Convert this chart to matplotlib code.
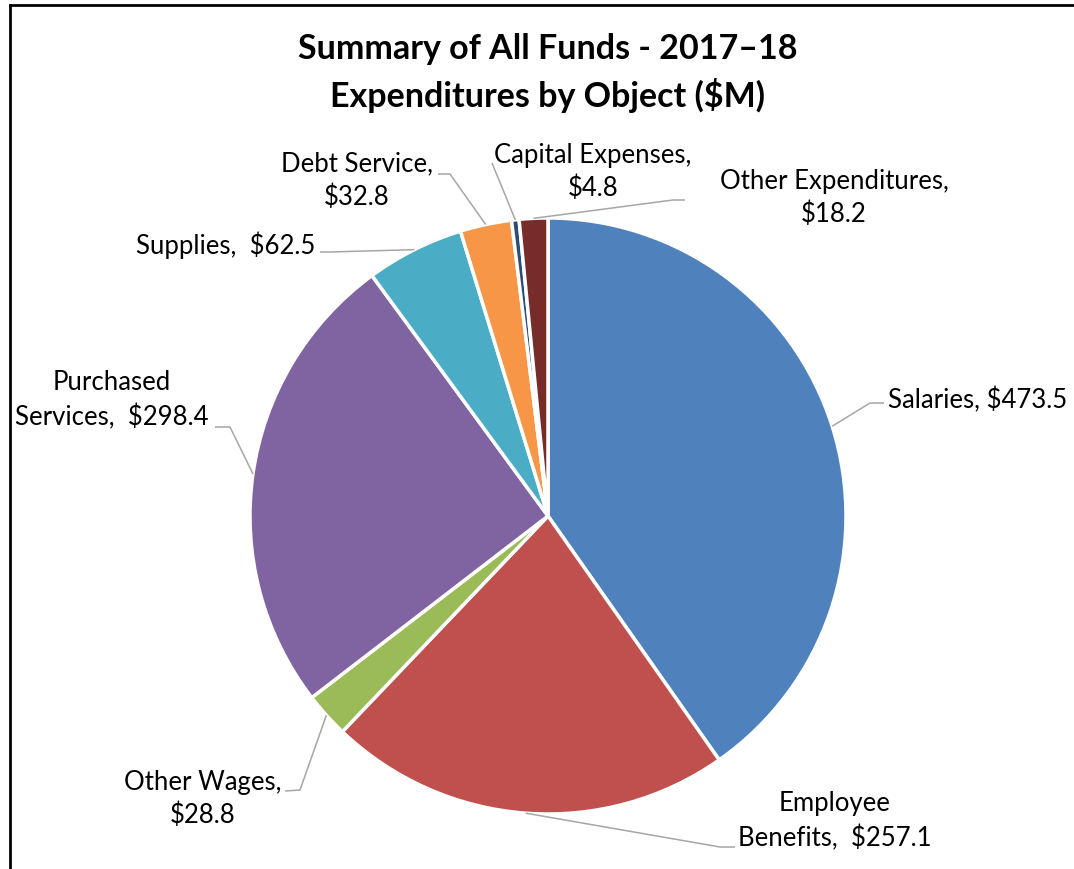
import numpy as np
import matplotlib as mpl
import matplotlib.pyplot as plt

# expenditure categories, $M, clockwise from 12 o'clock
categories = ['Salaries', 'Employee Benefits', 'Other Wages', 'Purchased Services',
              'Supplies', 'Debt Service', 'Capital Expenses', 'Other Expenditures']
amounts = [473.5, 257.1, 28.8, 298.4, 62.5, 32.8, 4.8, 18.2]
label_texts = ['Salaries, ${:.1f}',
               'Employee\nBenefits,  ${:.1f}',
               'Other Wages,\n${:.1f}',
               'Purchased\nServices,  ${:.1f}',
               'Supplies,  ${:.1f}',
               'Debt Service,\n${:.1f}',
               'Capital Expenses,\n${:.1f}',
               'Other Expenditures,\n${:.1f}']
colors = ['#4f81bd', '#c0504d', '#9bbb59', '#8064a2',
          '#4bacc6', '#f79646', '#2c4d75', '#772c2a']

W, H = 1074, 869
mpl.rcParams['font.family'] = ['Lato', 'DejaVu Sans']

fig = plt.figure(figsize=(W / 100, H / 100), dpi=100)
ax = fig.add_axes([0, 0, 1, 1])
ax.set_aspect('equal')

cx, cy, r = 548, H - 516, 298
wedges, _ = ax.pie(amounts, colors=colors, startangle=90, counterclock=False,
                   center=(cx, cy), radius=r, frame=True,
                   wedgeprops=dict(edgecolor='white', linewidth=2.5))
ax.set_xlim(0, W)
ax.set_ylim(0, H)
ax.axis('off')

# label placement (text anchor, alignment, leader bend points) in pixel coords, y from top
placement = [
    ((888, 400), 'left',   [(870, 403), (884, 403)]),
    ((835, 821), 'center', [(720, 847), (735, 847)]),
    ((203, 799), 'center', [(300, 790), (285, 791)]),
    ((112, 400), 'center', [(230, 427), (215, 427)]),
    ((226, 245), 'center', [(330, 252), (320, 252)]),
    ((357, 181), 'center', [(450, 174), (438, 174)]),
    ((593, 172), 'center', [(492, 163)]),
    ((834, 198), 'center', [(673, 200), (685, 200)]),
]

total = sum(amounts)
start = 0.0
for val, fmt, (pos, ha, bends) in zip(amounts, label_texts, placement):
    mid = (start + val / 2) / total * 2 * np.pi
    start += val
    ax_x = cx + r * np.sin(mid)
    ax_y = cy + r * np.cos(mid)
    xs = [ax_x] + [b[0] for b in bends]
    ys = [ax_y] + [H - b[1] for b in bends]
    ax.plot(xs, ys, color='#a6a6a6', lw=1.1, solid_capstyle='butt')
    ax.text(pos[0], H - pos[1], fmt.format(val), ha=ha, va='center',
            fontsize=18.5, color='#000000', linespacing=1.4, multialignment='center')

ax.text(548, H - 73, 'Summary of All Funds - 2017\u201318\nExpenditures by Object ($M)',
        ha='center', va='center', fontsize=24.5, fontweight='bold', linespacing=1.42)

# chart border (top and left edges)
ax.plot([10, W], [H - 5, H - 5], color='black', lw=2, clip_on=False)
ax.plot([10, 10], [H - 5, 0], color='black', lw=2, clip_on=False)

fig.savefig('out.png', dpi=100)
